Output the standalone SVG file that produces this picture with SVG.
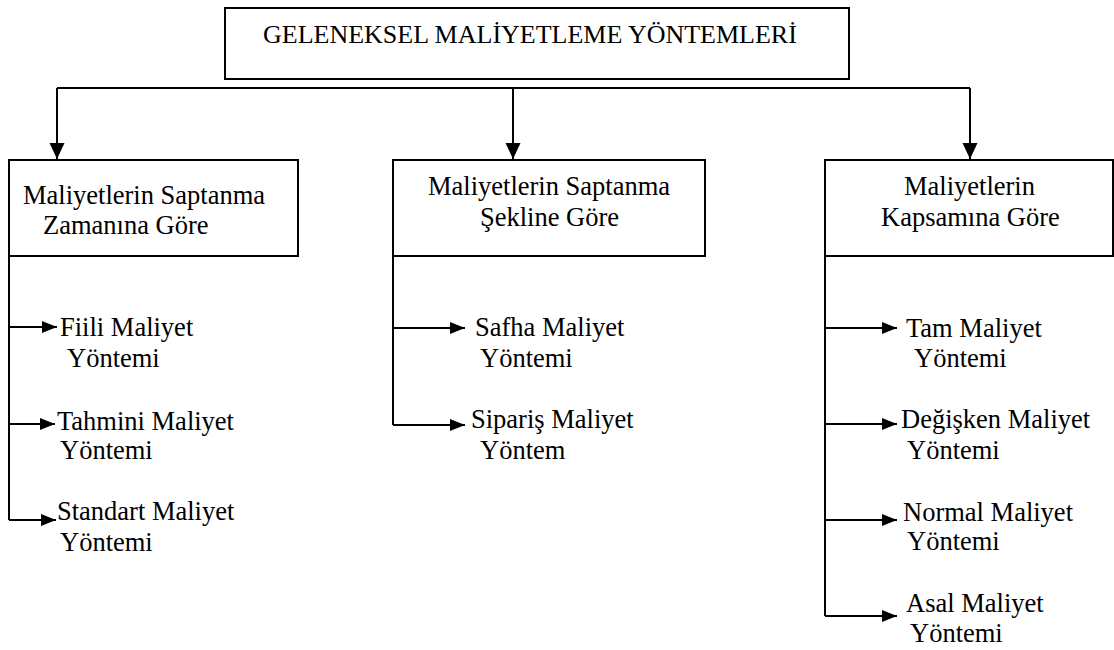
<svg xmlns="http://www.w3.org/2000/svg" width="1114" height="650" viewBox="0 0 1114 650">
  <style>
    .box { fill: #ffffff; stroke: #000000; stroke-width: 2; }
    .wire { fill: none; stroke: #000000; stroke-width: 2; }
    .lbl { font-family: "Liberation Serif", "Times New Roman", serif; font-size: 26.5px; fill: #000000; }
    .title { font-family: "Liberation Serif", "Times New Roman", serif; font-size: 26px; fill: #000000; }
  </style>
  <defs>
    <marker id="head" markerUnits="userSpaceOnUse" markerWidth="16" markerHeight="16" refX="15" refY="8" orient="auto">
      <path d="M0,2 L15,8 L0,14 Z" fill="#000000"/>
    </marker>
    <marker id="headDown" markerUnits="userSpaceOnUse" markerWidth="17" markerHeight="16" refX="16" refY="8" orient="auto">
      <path d="M0,0.5 L16,8 L0,15.5 Z" fill="#000000"/>
    </marker>
  </defs>

  <rect width="1114" height="650" fill="#ffffff"/>

  <!-- connectors -->
  <g id="connectors">
    <!-- root bus -->
    <path class="wire" d="M57,88 L970,88"/>
    <path class="wire" d="M57,88 L57,159" marker-end="url(#headDown)"/>
    <path class="wire" d="M513,88 L513,159" marker-end="url(#headDown)"/>
    <path class="wire" d="M970,88 L970,159" marker-end="url(#headDown)"/>

    <!-- left column -->
    <path class="wire" d="M9,256 L9,520"/>
    <path class="wire" d="M9,327 L57,327" marker-end="url(#head)"/>
    <path class="wire" d="M9,424 L55,424" marker-end="url(#head)"/>
    <path class="wire" d="M9,520 L56,520" marker-end="url(#head)"/>

    <!-- middle column -->
    <path class="wire" d="M393,256 L393,425"/>
    <path class="wire" d="M393,328 L465,328" marker-end="url(#head)"/>
    <path class="wire" d="M393,425 L465,425" marker-end="url(#head)"/>

    <!-- right column -->
    <path class="wire" d="M825,256 L825,616"/>
    <path class="wire" d="M825,328 L897,328" marker-end="url(#head)"/>
    <path class="wire" d="M825,424 L897,424" marker-end="url(#head)"/>
    <path class="wire" d="M825,520 L897,520" marker-end="url(#head)"/>
    <path class="wire" d="M825,616 L897,616" marker-end="url(#head)"/>
  </g>

  <g id="root">
    <rect class="box" x="225" y="8" width="624" height="71"/>
    <text class="title" x="263" y="43">GELENEKSEL MALİYETLEME YÖNTEMLERİ</text>
  </g>

  <g id="by-time">
    <rect class="box" x="9" y="160" width="289" height="96"/>
    <text class="lbl" x="23" y="204">Maliyetlerin Saptanma</text>
    <text class="lbl" x="43" y="234">Zamanına Göre</text>
  </g>

  <g id="by-form">
    <rect class="box" x="393" y="160" width="312" height="96"/>
    <text class="lbl" x="428" y="195">Maliyetlerin Saptanma</text>
    <text class="lbl" x="480" y="226">Şekline Göre</text>
  </g>

  <g id="by-scope">
    <rect class="box" x="825" y="160" width="288" height="96"/>
    <text class="lbl" x="904" y="195">Maliyetlerin</text>
    <text class="lbl" x="881" y="226">Kapsamına Göre</text>
  </g>

  <g id="actual">
    <text class="lbl" x="60" y="336">Fiili Maliyet</text>
    <text class="lbl" x="67" y="367">Yöntemi</text>
  </g>
  <g id="estimated">
    <text class="lbl" x="57" y="430">Tahmini Maliyet</text>
    <text class="lbl" x="60" y="459">Yöntemi</text>
  </g>
  <g id="standard">
    <text class="lbl" x="57" y="520">Standart Maliyet</text>
    <text class="lbl" x="60" y="551">Yöntemi</text>
  </g>

  <g id="process">
    <text class="lbl" x="475" y="336">Safha Maliyet</text>
    <text class="lbl" x="480" y="367">Yöntemi</text>
  </g>
  <g id="job-order">
    <text class="lbl" x="471" y="428">Sipariş Maliyet</text>
    <text class="lbl" x="480" y="459">Yöntem</text>
  </g>

  <g id="full">
    <text class="lbl" x="906" y="337">Tam Maliyet</text>
    <text class="lbl" x="914" y="367">Yöntemi</text>
  </g>
  <g id="variable">
    <text class="lbl" x="901" y="428">Değişken Maliyet</text>
    <text class="lbl" x="907" y="459">Yöntemi</text>
  </g>
  <g id="normal">
    <text class="lbl" x="903" y="521">Normal Maliyet</text>
    <text class="lbl" x="907" y="550">Yöntemi</text>
  </g>
  <g id="prime">
    <text class="lbl" x="906" y="612">Asal Maliyet</text>
    <text class="lbl" x="910" y="642">Yöntemi</text>
  </g>
</svg>
